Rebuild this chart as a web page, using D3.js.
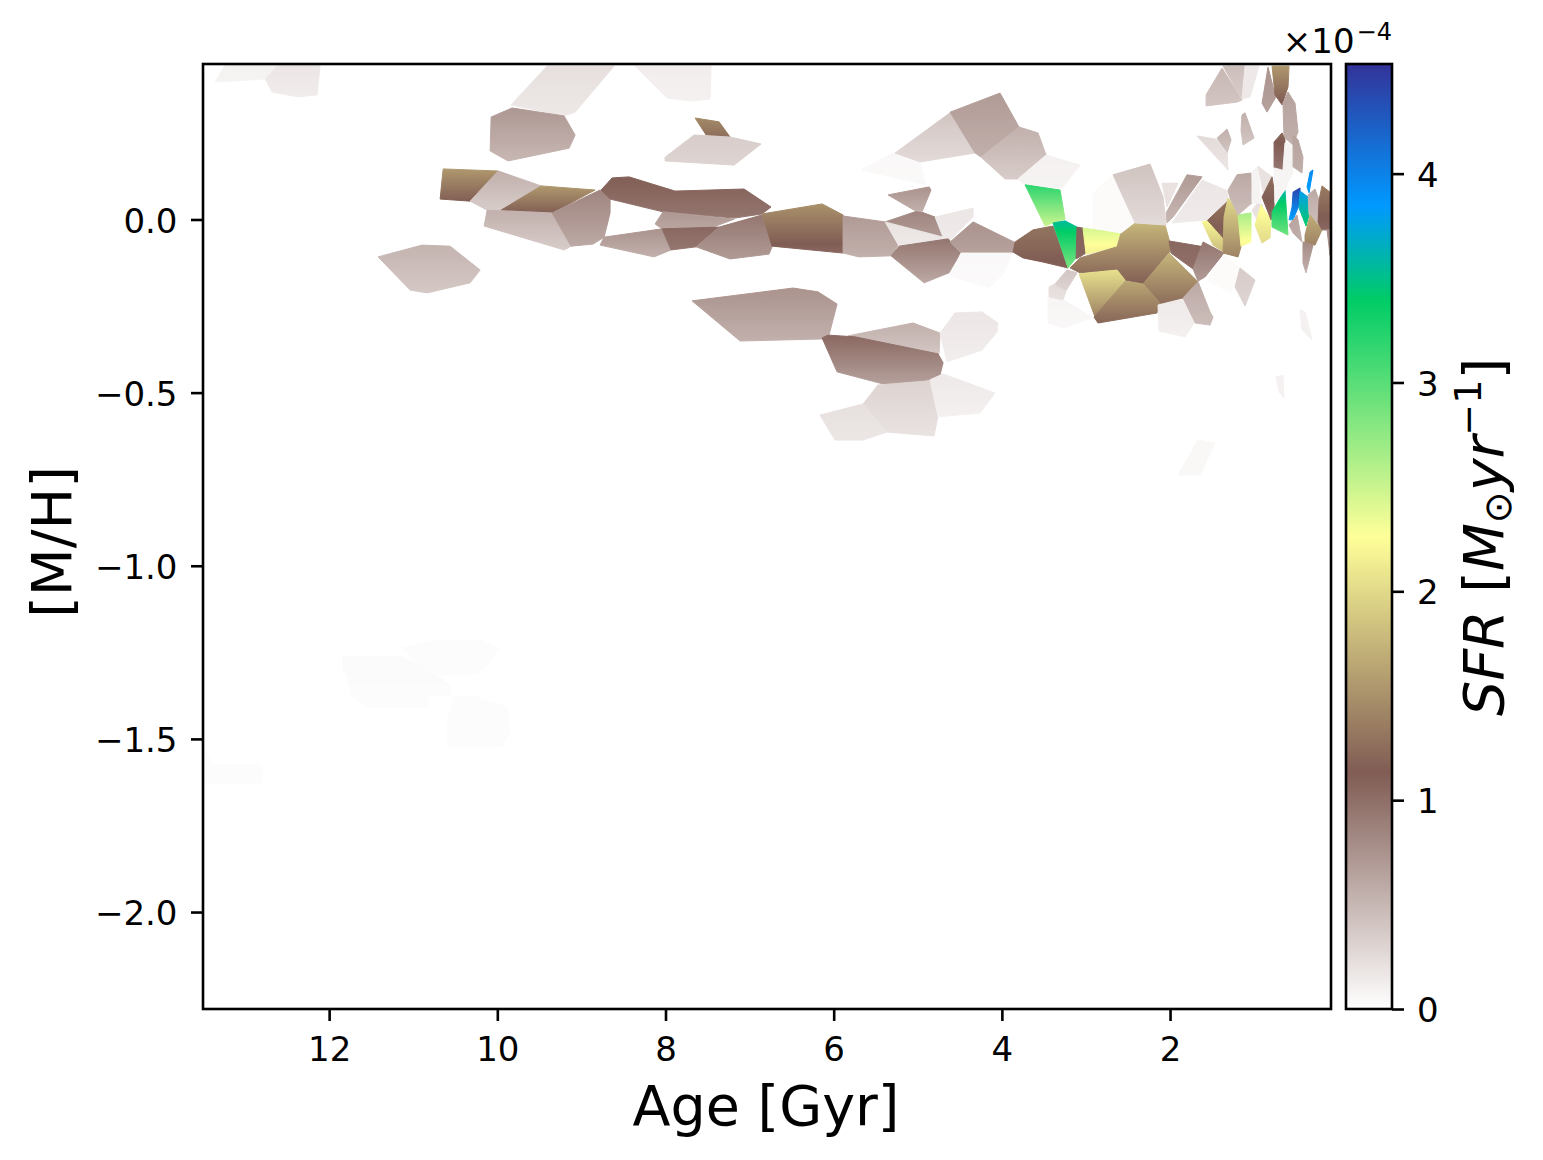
<!DOCTYPE html>
<html><head><meta charset="utf-8">
<script src="https://cdnjs.cloudflare.com/ajax/libs/d3/7.8.5/d3.min.js"></script>
<style>html,body{margin:0;padding:0;background:#fff}svg{display:block}text{font-family:"DejaVu Sans",sans-serif;fill:#000}</style>
</head><body>
<svg id="c" width="1543" height="1160"></svg>
<script>
const xTicks=[12,10,8,6,4,2];
const yTicks=[0,-0.5,-1,-1.5,-2];
const cbTicks=[0,1,2,3,4];
const ageDomain=[13.5,0.086];
const mhDomain=[0.449,-2.28];
const sfrMax=4.525;
const terrainPos=[0,0.15,0.25,0.5,0.75,1];
const terrainCol=["#333399","#0099ff","#00cc66","#ffff99","#805c54","#ffffff"];

// Voronoi bins: [age Gyr, [M/H]] vertices
const cellVertices=[
[[13.237,.446],[12.606,.446],[12.76,.406],[13.355,.397]],
[[12.606,.446],[12.107,.446],[12.143,.36],[12.369,.354],[12.678,.368],[12.76,.406]],
[[9.408,.443],[8.611,.443],[9.075,.31],[9.206,.299],[9.836,.331]],
[[8.361,.443],[7.458,.443],[7.47,.348],[7.684,.342],[7.981,.351]],
[[10.073,.296],[9.824,.322],[9.206,.299],[9.075,.244],[9.146,.206],[9.872,.169],[10.086,.198]],
[[7.648,.293],[7.363,.282],[7.232,.238],[7.517,.244]],
[[7.66,.244],[7.232,.238],[6.863,.218],[7.184,.157],[8.005,.169],[8.005,.18]],
[[10.644,.146],[9.99,.14],[10.323,.053],[10.68,.059]],
[[9.99,.14],[9.479,.097],[9.955,.027],[10.121,.027],[10.323,.053]],
[[9.479,.097],[8.837,.085],[9.349,.019],[9.955,.027]],
[[10.121,.027],[9.349,.019],[9.123,-.077],[9.206,-.088],[10.157,-.019]],
[[9.349,.019],[8.778,.085],[8.659,.065],[8.659,.019],[8.73,-.051],[8.861,-.071],[9.123,-.077]],
[[8.766,.085],[8.635,.12],[8.433,.123],[7.886,.082],[7.066,.088],[6.745,.036],[6.852,.016],[7.184,.004],[8.029,.022],[8.659,.059]],
[[8.029,.022],[7.184,.001],[7.434,-.022],[8.041,-.027],[8.124,-.013]],
[[8.73,-.051],[8.041,-.027],[7.934,-.088],[8.136,-.108],[8.778,-.074]],
[[8.041,-.027],[7.363,-.022],[7.636,-.079],[7.934,-.088]],
[[7.636,-.079],[7.363,-.022],[6.852,.013],[6.733,-.079],[6.769,-.1],[7.232,-.114]],
[[6.852,.016],[6.138,.045],[5.888,.013],[5.888,-.097],[6.733,-.077]],
[[5.888,.01],[5.389,-.007],[5.234,-.074],[5.318,-.105],[5.698,-.108],[5.888,-.097]],
[[5.389,-.007],[4.996,.025],[4.794,.007],[4.699,-.051]],
[[5.389,-.007],[4.699,-.051],[4.639,-.056],[5.222,-.077]],
[[4.794,.007],[4.342,.033],[4.342,.007],[4.616,-.059],[4.699,-.051]],
[[5.318,-.105],[5.222,-.077],[4.639,-.056],[4.485,-.094],[4.628,-.154],[4.925,-.183]],
[[4.616,-.065],[4.342,-.007],[3.831,-.068],[3.879,-.097],[4.485,-.097]],
[[4.485,-.097],[3.879,-.097],[3.974,-.154],[4.153,-.198],[4.616,-.163]],
[[5.353,.071],[4.866,.094],[4.842,.085],[4.949,.022],[5.044,.027]],
[[5.674,.143],[5.294,.192],[4.973,.163],[4.902,.1]],
[[5.27,.192],[4.616,.308],[4.319,.192],[4.973,.166]],
[[4.616,.31],[4.022,.365],[3.796,.267],[4.247,.18],[4.319,.192]],
[[3.796,.267],[3.57,.25],[3.474,.186],[3.808,.117],[3.962,.117],[4.247,.18]],
[[3.474,.186],[3.07,.157],[3.284,.091],[3.724,.1],[3.808,.117]],
[[3.724,.1],[3.308,.085],[3.249,.001],[3.391,-.01],[3.486,-.019]],
[[11.418,-.108],[10.894,-.074],[10.561,-.077],[10.204,-.146],[10.323,-.183],[10.835,-.212],[11.037,-.204]],
[[7.684,-.235],[6.483,-.198],[6.186,-.209],[5.96,-.244],[6.055,-.334],[6.138,-.345],[7.113,-.351]],
[[5.829,-.336],[5.056,-.299],[4.735,-.328],[4.747,-.388]],
[[6.138,-.342],[6.067,-.334],[5.746,-.339],[4.759,-.388],[4.699,-.414],[4.735,-.449],[4.854,-.463],[5.365,-.478],[5.96,-.44]],
[[4.735,-.328],[4.557,-.27],[4.236,-.267],[4.046,-.299],[4.058,-.325],[4.236,-.377],[4.652,-.411]],
[[5.473,-.478],[4.854,-.466],[4.759,-.565],[4.807,-.625],[5.365,-.614],[5.651,-.533]],
[[6.162,-.565],[5.651,-.533],[5.365,-.614],[5.651,-.637],[5.984,-.637]],
[[4.854,-.463],[4.699,-.446],[4.081,-.501],[4.259,-.559],[4.759,-.57]],
[[1.905,-.738],[1.667,-.637],[1.465,-.645],[1.643,-.738]],
[[11.835,-1.263],[11.133,-1.263],[10.954,-1.286],[10.74,-1.315],[10.561,-1.344],[10.561,-1.376],[10.823,-1.376],[10.823,-1.408],[11.549,-1.408],[11.739,-1.373],[11.787,-1.315],[11.835,-1.301]],
[[11.133,-1.237],[10.74,-1.214],[10.204,-1.214],[9.978,-1.237],[10.097,-1.281],[10.24,-1.315],[10.74,-1.315],[10.954,-1.286]],
[[10.514,-1.376],[10.288,-1.376],[9.884,-1.408],[9.848,-1.48],[9.943,-1.523],[10.585,-1.523],[10.597,-1.445]],
[[13.5,-1.526],[13.38,-1.575],[12.797,-1.575],[12.797,-1.627],[13.5,-1.627]],
[[3.867,-.094],[3.843,-.065],[3.629,-.03],[3.391,-.019],[3.213,-.14],[3.51,-.123],[3.748,-.111]],
[[3.391,-.01],[3.249,-.004],[3.106,-.022],[3.118,-.111],[3.213,-.14]],
[[3.106,-.022],[3.035,-.025],[2.999,-.097],[3.118,-.114]],
[[3.035,-.025],[2.583,-.039],[2.63,-.079],[2.999,-.1]],
[[3.189,-.14],[3.07,-.111],[2.63,-.079],[2.583,-.039],[2.416,-.01],[2.059,-.016],[1.988,-.079],[2.012,-.097],[2.321,-.186],[2.535,-.175],[2.63,-.146],[3.07,-.154]],
[[2.321,-.186],[2.012,-.097],[1.667,-.18],[1.846,-.227],[2.107,-.244]],
[[3.082,-.157],[2.63,-.146],[2.535,-.175],[2.892,-.282]],
[[2.535,-.178],[2.321,-.186],[2.119,-.241],[2.155,-.27],[2.856,-.299],[2.904,-.282]],
[[2.012,-.062],[1.596,-.079],[1.726,-.143],[1.988,-.097]],
[[1.607,-.065],[1.358,-.097],[1.584,-.166],[1.667,-.178],[1.726,-.143]],
[[1.358,-.1],[1.168,-.14],[1.227,-.189],[1.287,-.212],[1.56,-.175]],
[[1.168,-.14],[.989,-.175],[1.108,-.25],[1.227,-.195]],
[[1.846,-.227],[1.667,-.18],[1.524,-.267],[1.489,-.282],[1.524,-.305],[1.703,-.299]],
[[2.143,-.247],[1.858,-.23],[1.715,-.299],[1.822,-.339],[2.131,-.322]],
[[3.451,-.227],[3.273,-.232],[2.916,-.284],[3.273,-.313],[3.451,-.299]],
[[3.439,-.195],[3.368,-.186],[3.237,-.209],[3.273,-.232],[3.439,-.224]],
[[3.368,-.186],[3.225,-.146],[3.106,-.154],[3.237,-.206]],
[[2.916,.077],[2.678,.129],[2.416,-.007],[2.583,-.039],[2.916,-.025]],
[[2.678,.129],[2.238,.16],[2.083,.065],[2.047,-.016],[2.416,-.01]],
[[2.095,.105],[1.905,.105],[2.036,.036]],
[[2.036,-.01],[2.047,.019],[1.798,.129],[1.619,.123],[1.964,.007]],
[[1.976,-.01],[1.619,.114],[1.31,.082],[1.322,.051],[1.56,-.001]],
[[1.56,-.004],[1.322,.051],[1.346,-.088]],
[[1.619,-.007],[1.56,-.004],[1.358,-.059],[1.358,-.094],[1.489,-.074]],
[[1.31,.062],[1.191,.027],[1.156,-.079],[1.191,-.108],[1.37,-.097],[1.358,.007]],
[[1.191,.013],[1.037,.019],[1.037,-.065],[1.156,-.077]],
[[1.31,.085],[1.203,.129],[1.037,.134],[1.025,.048],[1.191,.013],[1.287,.062]],
[[1.025,.137],[.954,.154],[.918,.042],[1.025,.048]],
[[.954,.154],[.787,.123],[.894,.079]],
[[1.025,.027],[.966,.045],[.894,.042],[.966,-.001]],
[[.918,.042],[.799,-.001],[.811,-.053],[.906,-.068],[.989,-.016]],
[[.906,.065],[.787,.123],[.763,.085],[.763,.022],[.799,-.001]],
[[.787,.022],[.633,.085],[.597,-.045],[.787,-.022]],
[[.585,-.001],[.549,.036],[.537,.079],[.454,.091],[.454,.048],[.537,-.001]],
[[.371,.094],[.335,.137],[.3,.143],[.347,.077]],
[[.454,.082],[.359,.065],[.347,.013],[.383,-.019],[.466,.033]],
[[.359,.071],[.276,.088],[.228,.056],[.24,-.01],[.347,.013]],
[[.335,.013],[.193,-.03],[.276,-.074],[.395,-.068],[.395,-.045]],
[[.228,.056],[.193,.097],[.098,.079],[.098,-.03],[.193,-.03],[.24,-.01]],
[[.133,-.03],[.098,-.03],[.098,-.103]],
[[.419,-.065],[.3,-.074],[.383,-.154],[.419,-.126]],
[[.585,-.016],[.49,.013],[.431,-.065],[.537,-.039]],
[[.454,-.261],[.395,-.267],[.311,-.348],[.43,-.319]],
[[.74,-.455],[.657,-.449],[.645,-.515],[.704,-.498]],
[[1.382,.437],[1.144,.345],[1.203,.339],[1.572,.328],[1.572,.36]],
[[1.37,.443],[1.108,.443],[1.144,.345]],
[[1.108,.443],[.942,.443],[1.049,.354],[1.144,.348]],
[[1.144,.302],[1.108,.308],[1.001,.235],[1.132,.215],[1.156,.258]],
[[1.441,.235],[1.322,.261],[1.275,.23],[1.322,.192]],
[[1.679,.241],[1.453,.232],[1.322,.192],[1.31,.143]],
[[.835,.44],[.775,.383],[.74,.354],[.847,.31],[.906,.336]],
[[.787,.443],[.585,.443],[.597,.383],[.668,.331],[.752,.36]],
[[.597,.368],[.514,.336],[.478,.253],[.537,.215],[.645,.238],[.657,.336]],
[[.668,.25],[.633,.23],[.657,.143],[.763,.149],[.763,.224]],
[[.633,.221],[.549,.215],[.537,.134],[.657,.143]],
[[.537,.244],[.478,.23],[.419,.18],[.431,.134],[.537,.152]],
[[.763,.149],[.537,.134],[.597,.108],[.633,.085],[.752,.048]]
];
// SFR (units of 1e-4) at the top and bottom of each bin, same order as cellVertices
const cellTop=[.1,.17,.22,.12,.72,1.45,.35,1.55,.55,1.55,.55,.85,1.12,.72,.75,1.05,.95,1.5,.7,.85,.2,.17,.95,.75,.05,.75,.05,.4,.7,.55,.1,3.2,.52,.75,.55,1.05,.17,.3,.22,.15,.05,.03,.02,.02,.02,1.3,3.55,1.1,2.45,1.75,1.75,2.05,1.65,1.05,.95,.03,.35,.6,.15,.07,.25,.4,.03,.42,.2,.7,.17,1.3,2.2,2,2.65,.6,.08,.2,.2,2.3,1.25,3.6,4.4,3.95,3.8,.6,1.7,1.35,.8,.8,.65,.1,.1,.5,.45,.15,.55,.55,.25,.75,1.55,.65,1.2,.08,.65,.07];
const cellBottom=[.08,.13,.16,.1,.5,1.25,.3,1.15,.35,1.15,.35,.6,.95,.62,.55,.95,.7,1.05,.55,.7,.15,.14,.6,.65,.03,.55,.04,.25,.55,.35,.08,2.5,.38,.55,.4,.65,.12,.2,.17,.1,.05,.02,.02,.02,.02,1.1,2.85,1.05,2.15,1.15,1.25,1.4,1.2,1,.7,.03,.3,.45,.1,.05,.2,.3,.03,.25,.2,.5,.14,1,1.8,1.4,2.2,.45,.08,.2,.2,2,1.05,2.9,3.8,3.8,3.4,.45,1.4,1.05,.7,.55,.55,.1,.1,.4,.35,.15,.4,.4,.18,.65,1.1,.55,.95,.08,.55,.07];

const svg=d3.select("#c");
const L=203,R=1331,T=64,B=1009;
const x=d3.scaleLinear().domain(ageDomain).range([L,R]);
const y=d3.scaleLinear().domain(mhDomain).range([T,B]);
const cmap=d3.scaleLinear().domain(terrainPos).range(terrainCol).interpolate(d3.interpolateRgb);
const colorOf=v=>cmap(1-Math.max(0,Math.min(1,v/sfrMax)));
const cb=d3.scaleLinear().domain([0,sfrMax]).range([B,T]);
const defs=svg.append("defs");
defs.append("clipPath").attr("id","ax").append("rect").attr("x",L).attr("y",T).attr("width",R-L).attr("height",B-T);

function addGradient(id,y1,y2,v1,v2){
  const g=defs.append("linearGradient").attr("id",id).attr("gradientUnits","userSpaceOnUse")
    .attr("x1",0).attr("x2",0).attr("y1",y1).attr("y2",y2);
  d3.range(0,25).forEach(i=>{const f=i/24;
    g.append("stop").attr("offset",f).attr("stop-color",colorOf(v1+(v2-v1)*f));});
}
const line=d3.line().x(d=>x(d[0])).y(d=>y(d[1])).curve(d3.curveLinearClosed);
const cg=svg.append("g").attr("clip-path","url(#ax)");
cellVertices.forEach((poly,i)=>{
  const ex=d3.extent(poly,d=>y(d[1]));
  addGradient("g"+i,ex[0],ex[1],cellTop[i],cellBottom[i]);
  cg.append("path").attr("d",line(poly)).attr("fill","url(#g"+i+")").attr("stroke","url(#g"+i+")").attr("stroke-width",1).attr("stroke-linejoin","round");
});

const fmt=d=>d3.format(".1f")(d).replace("-","\u2212");
const tickSize=12,lw=2.6,fs=34;
const ax=svg.append("g").attr("transform",`translate(0,${B})`).call(d3.axisBottom(x).tickValues(xTicks).tickFormat(d3.format("d")).tickSize(tickSize).tickPadding(15.5));
const ay=svg.append("g").attr("transform",`translate(${L},0)`).call(d3.axisLeft(y).tickValues(yTicks).tickFormat(fmt).tickSize(tickSize).tickPadding(13.5));
[ax,ay].forEach(a=>{a.select(".domain").remove();a.selectAll("line").attr("stroke","#000").attr("stroke-width",lw);a.selectAll("text").attr("font-size",fs).attr("font-family","DejaVu Sans");});
ay.selectAll("text").attr("dy","0.37em");
svg.append("rect").attr("x",L).attr("y",T).attr("width",R-L).attr("height",B-T).attr("fill","none").attr("stroke","#000").attr("stroke-width",lw);

// colourbar
const CL=1346,CR=1392;
const cbg=defs.append("linearGradient").attr("id","cbg").attr("gradientUnits","userSpaceOnUse").attr("x1",0).attr("x2",0).attr("y1",B).attr("y2",T);
terrainPos.slice().reverse().forEach(p=>{cbg.append("stop").attr("offset",1-p).attr("stop-color",cmap(p));});
svg.append("rect").attr("x",CL).attr("y",T).attr("width",CR-CL).attr("height",B-T).attr("fill","url(#cbg)").attr("stroke","#000").attr("stroke-width",lw);
const ac=svg.append("g").attr("transform",`translate(${CR},0)`).call(d3.axisRight(cb).tickValues(cbTicks).tickFormat(d3.format("d")).tickSize(tickSize).tickPadding(13));
ac.select(".domain").remove();ac.selectAll("line").attr("stroke","#000").attr("stroke-width",lw);ac.selectAll("text").attr("font-size",fs).attr("font-family","DejaVu Sans").attr("dy","0.37em");

// offset text
const off=svg.append("text").attr("x",CR).attr("y",53).attr("text-anchor","end").attr("font-size",fs);
off.append("tspan").text("\u00d710");
off.append("tspan").attr("dy",-13).attr("dx",2).attr("font-size",24).text("\u22124");

// labels
svg.append("text").attr("x",766).attr("y",1125).attr("text-anchor","middle").attr("font-size",55.5).text("Age [Gyr]");
svg.append("text").attr("transform","translate(71,542) rotate(-90)").attr("text-anchor","middle").attr("font-size",55.5).text("[M/H]");
const sl=svg.append("text").attr("transform","translate(1503,537) rotate(-90)").attr("text-anchor","middle").attr("font-size",55.5);
sl.append("tspan").attr("font-style","italic").text("SFR");
sl.append("tspan").text(" [");
sl.append("tspan").attr("font-style","italic").text("M");
sl.append("tspan").attr("font-size",38).attr("dy",8).text("\u2299");
sl.append("tspan").attr("font-style","italic").attr("dy",-8).text("yr");
sl.append("tspan").attr("font-size",38).attr("dy",-22).text("\u22121");
sl.append("tspan").attr("dy",22).text("]");
</script>
</body></html>
